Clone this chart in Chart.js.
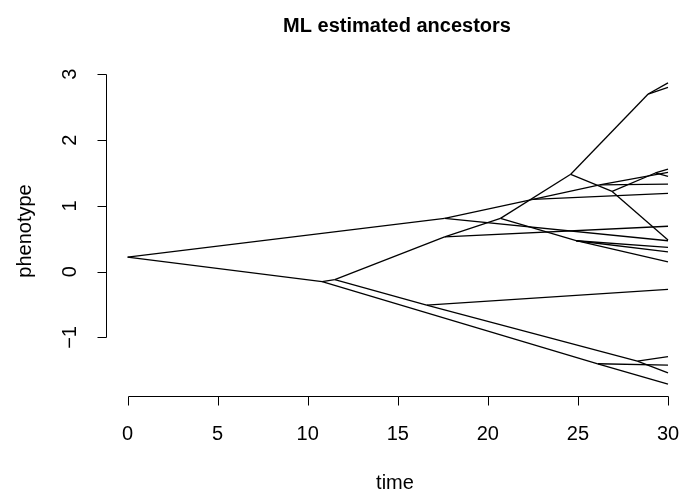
<!DOCTYPE html>
<html>
<head>
<meta charset="utf-8">
<script src="https://cdn.jsdelivr.net/npm/chart.js@4.4.1/dist/chart.umd.min.js"></script>
<style>
  html, body { margin: 0; padding: 0; background: #fff; }
  canvas { display: block; }
</style>
</head>
<body>
<canvas id="phenogram" width="681" height="498"></canvas>
<script>
// nodes of the tree: name, time, estimated phenotype
const nodeNames = ['R', 'A', 'B', 'C', 'D', 'E', 'F', 'G', 'H', 'I', 'J', 'K', 'L', 'M', 'N', 'P',
    't1', 't2', 't3', 't4', 't5', 't6', 't7', 't8', 't9', 't10', 't11', 't12', 't13', 't14', 't15', 't16', 't17', 't18'];
const nodeTime = [0, 17.6, 10.8, 11.5, 17.6, 20.7, 24.6, 26.9, 29.3, 24.9, 28.3, 16.6, 26.1, 28.9, 22.5, 26.2,
    30, 30, 30, 30, 30, 30, 30, 30, 30, 30, 30, 30, 30, 30, 30, 30, 30, 30];
const nodeValue = [0.22, 0.81, -0.15, -0.12, 0.53, 0.81, 1.48, 1.22, 1.50, 0.47, -1.36, -0.51, -1.40, 2.70, 1.10, 1.32,
    2.87, 2.80, 1.56, 1.45, 1.51, 1.33, 1.19, 0.69, 0.47, 0.48, 0.37, 0.30, 0.15, -0.27, -1.29, -1.54, -1.42, -1.71];

// branches: parent -> child
const edgeParent = ['R', 'R', 'B', 'B', 'C', 'C', 'K', 'K', 'J', 'J', 'L', 'L', 'D', 'D', 'E', 'E', 'I', 'I', 'I',
    'F', 'M', 'M', 'F', 'G', 'G', 'H', 'H', 'A', 'A', 'N', 'N', 'P', 'P'];
const edgeChild = ['A', 'B', 'C', 'L', 'D', 'K', 't14', 'J', 't15', 't16', 't17', 't18', 't8', 'E', 'F', 'I', 't11', 't12', 't13',
    'M', 't1', 't2', 'G', 't10', 'H', 't3', 't4', 'N', 't9', 't7', 'P', 't6', 't5'];

const xTicks = [0, 5, 10, 15, 20, 25, 30];
const yTicks = [-1, 0, 1, 2, 3];

const FONT = '"Liberation Sans", Arial, Helvetica, sans-serif';

function nodePoint(name) {
    const i = nodeNames.indexOf(name);
    return { x: nodeTime[i], y: nodeValue[i] };
}

const datasets = edgeParent.map((p, i) => ({
    data: [nodePoint(p), nodePoint(edgeChild[i])],
    showLine: true,
    borderColor: '#000',
    borderWidth: 1.3,
    pointRadius: 0,
    clip: false
}));

// R style axes, labels and title
const rAxes = {
    id: 'rAxes',
    afterDraw(chart) {
        const ctx = chart.ctx;
        const xs = chart.scales.x;
        const ys = chart.scales.y;
        const area = chart.chartArea;
        ctx.save();
        ctx.strokeStyle = '#000';
        ctx.fillStyle = '#000';
        ctx.lineWidth = 1;

        // x axis
        const axY = Math.round(area.bottom) + 0.5;
        ctx.beginPath();
        ctx.moveTo(Math.round(xs.getPixelForValue(xTicks[0])) + 0.5, axY);
        ctx.lineTo(Math.round(xs.getPixelForValue(xTicks[xTicks.length - 1])) + 0.5, axY);
        xTicks.forEach(t => {
            const px = Math.round(xs.getPixelForValue(t)) + 0.5;
            ctx.moveTo(px, axY);
            ctx.lineTo(px, axY + 9);
        });
        ctx.stroke();
        ctx.font = '20px ' + FONT;
        ctx.textAlign = 'center';
        ctx.textBaseline = 'middle';
        xTicks.forEach(t => ctx.fillText(String(t), xs.getPixelForValue(t), 434));

        // y axis
        const axX = Math.round(area.left) + 0.5;
        ctx.beginPath();
        ctx.moveTo(axX, Math.round(ys.getPixelForValue(yTicks[0])) + 0.5);
        ctx.lineTo(axX, Math.round(ys.getPixelForValue(yTicks[yTicks.length - 1])) + 0.5);
        yTicks.forEach(v => {
            const py = Math.round(ys.getPixelForValue(v)) + 0.5;
            ctx.moveTo(axX, py);
            ctx.lineTo(axX - 9, py);
        });
        ctx.stroke();
        yTicks.forEach(v => {
            ctx.save();
            ctx.translate(70, ys.getPixelForValue(v));
            ctx.rotate(-Math.PI / 2);
            ctx.fillText(v < 0 ? '\u2212' + Math.abs(v) : String(v), 0, 0);
            ctx.restore();
        });

        // axis titles
        ctx.fillText('time', 395, 483);
        ctx.save();
        ctx.translate(25, 231);
        ctx.rotate(-Math.PI / 2);
        ctx.fillText('phenotype', 0, 0);
        ctx.restore();

        // main title
        ctx.font = 'bold 20px ' + FONT;
        ctx.fillText('ML estimated ancestors', 397, 26);
        ctx.restore();
    }
};

new Chart(document.getElementById('phenogram'), {
    type: 'scatter',
    data: { datasets },
    options: {
        responsive: false,
        animation: false,
        layout: { padding: { left: 106, right: 13, top: 71, bottom: 102 } },
        scales: {
            x: { type: 'linear', min: -1.2, max: 30, display: false },
            y: { type: 'linear', min: -1.89, max: 3.05, display: false }
        },
        plugins: {
            legend: { display: false },
            tooltip: { enabled: false }
        }
    },
    plugins: [rAxes]
});
</script>
</body>
</html>
